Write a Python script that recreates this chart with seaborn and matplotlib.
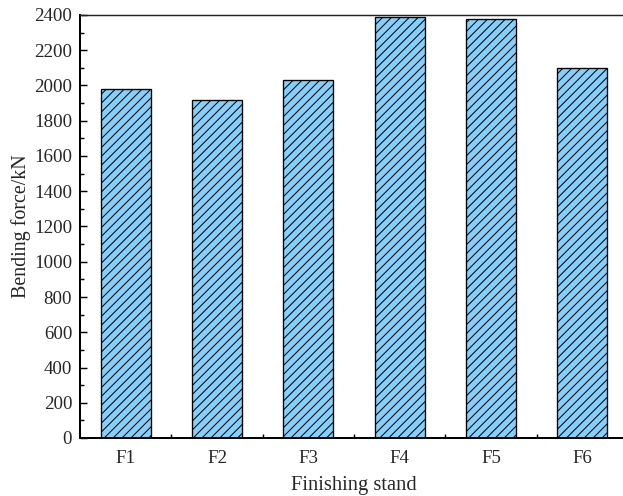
import matplotlib
matplotlib.use("Agg")
import matplotlib.pyplot as plt
from matplotlib.ticker import MultipleLocator, FixedLocator
import seaborn as sns
import pandas as pd

stands = ["F1", "F2", "F3", "F4", "F5", "F6"]
forces = [1980, 1920, 2030, 2390, 2375, 2100]
y_ticks = [0, 200, 400, 600, 800, 1000, 1200, 1400, 1600, 1800, 2000, 2200, 2400]

sns.set_style("ticks")
plt.rcParams["font.family"] = ["Liberation Serif", "DejaVu Serif"]
plt.rcParams["hatch.linewidth"] = 0.9
plt.rcParams["hatch.color"] = "black"

DPI = 80
fig = plt.figure(figsize=(623 / DPI, 496 / DPI), dpi=DPI)
ax = fig.add_axes([80 / 623, 58 / 496, 548 / 623, 423 / 496])

df = pd.DataFrame({"stand": stands, "force": forces})
sns.barplot(data=df, x="stand", y="force", color="#87CEFA", saturation=1,
            edgecolor="black", linewidth=1.2, width=0.55, ax=ax)
for p in ax.patches:
    p.set_hatch("///")
    p.set_edgecolor("black")

ax.set_xlim(-0.5, 5.5)
ax.set_ylim(0, 2400)
ax.set_yticks(y_ticks)
ax.yaxis.set_minor_locator(MultipleLocator(100))
ax.xaxis.set_minor_locator(FixedLocator([0.5, 1.5, 2.5, 3.5, 4.5]))

ax.tick_params(axis="both", which="major", direction="in", length=6.3, width=1.3,
               labelsize=17, color="black")
ax.tick_params(axis="both", which="minor", direction="in", length=3.2, width=1.3,
               color="black")
ax.tick_params(axis="y", which="major", pad=7)
ax.tick_params(axis="x", which="major", pad=11)
ax.tick_params(top=False, right=False, which="both")

for s in ["left", "bottom"]:
    ax.spines[s].set_linewidth(1.8)
    ax.spines[s].set_color("black")
ax.spines["top"].set_linewidth(1.3)
ax.spines["top"].set_color("#222222")
ax.spines["right"].set_visible(False)

ax.set_xlabel("Finishing stand", fontsize=18.5, labelpad=8)
ax.set_ylabel("Bending force/kN", fontsize=18, labelpad=3)

fig.savefig("out.png", dpi=DPI)
